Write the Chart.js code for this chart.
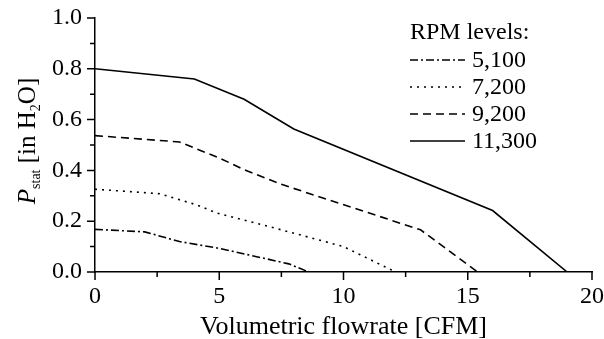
<!DOCTYPE html>
<html>
<head>
<meta charset="utf-8">
<script src="https://cdn.jsdelivr.net/npm/chart.js@4"></script>
<style>
  html, body { margin: 0; padding: 0; background: #fff; }
  #wrap { width: 604px; height: 339px; }
</style>
</head>
<body>
<div id="wrap"><canvas id="myChart" width="604" height="339"></canvas></div>
<script>
// values
var rpmLabels = ['5,100', '7,200', '9,200', '11,300'];
var flow5100 = [0, 2, 3.4, 5, 6.8, 7.8, 8.6];
var pres5100 = [0.168, 0.158, 0.12, 0.093, 0.054, 0.032, 0];
var flow7200 = [0, 2.6, 4.1, 4.9, 7.5, 10, 12.1];
var pres7200 = [0.326, 0.308, 0.264, 0.232, 0.166, 0.10, 0];
var flow9200 = [0, 3.4, 5, 6, 7.5, 13.1, 15.4];
var pres9200 = [0.537, 0.512, 0.449, 0.403, 0.345, 0.166, 0];
var flow11300 = [0, 4, 6, 8, 16, 19];
var pres11300 = [0.80, 0.76, 0.68, 0.563, 0.242, 0];
var xTicks = [0, 5, 10, 15, 20];
var yTicks = [0.0, 0.2, 0.4, 0.6, 0.8, 1.0];

var serif = "'Liberation Serif', 'DejaVu Serif', serif";
var dashes = [[8, 3, 2, 3], [2, 5], [8, 5], []];

function pts(xs, ys) {
    return xs.map(function (x, i) { return { x: x, y: ys[i] }; });
}

var series = [pts(flow5100, pres5100), pts(flow7200, pres7200), pts(flow9200, pres9200), pts(flow11300, pres11300)];

var datasets = series.map(function (d, i) {
    return {
        label: rpmLabels[i],
        data: d,
        borderColor: '#000',
        borderWidth: 1.6,
        borderDash: dashes[i],
        pointRadius: 0,
        fill: false,
        tension: 0
    };
});

// ticks (major + minor), axis titles and legend
var decor = {
    id: 'decor',
    afterDraw: function (chart) {
        var c = chart.ctx, xs = chart.scales.x, ys = chart.scales.y;
        var a = chart.chartArea;
        c.save();
        c.strokeStyle = '#000';
        c.lineWidth = 1.5;
        c.beginPath();
        for (var v = 0; v <= 20.001; v += 2.5) {
            var px = xs.getPixelForValue(v);
            var major = Math.abs(v % 5) < 0.01;
            c.moveTo(px, a.bottom);
            c.lineTo(px, a.bottom + (major ? 8 : 5));
        }
        for (var k = 0; k <= 10; k++) {
            var py = ys.getPixelForValue(k / 10);
            c.moveTo(a.left, py);
            c.lineTo(a.left - (k % 2 === 0 ? 8 : 5), py);
        }
        c.stroke();

        c.fillStyle = '#000';
        // x title
        c.font = '26px ' + serif;
        c.textAlign = 'center';
        c.textBaseline = 'alphabetic';
        c.fillText('Volumetric flowrate [CFM]', (a.left + a.right) / 2, 334);

        // y title with subscripts
        c.save();
        c.translate(35, 141);
        c.rotate(-Math.PI / 2);
        var parts = [
            ['italic 25px ' + serif, 'P', 0],
            ['14px ' + serif, 'stat', 5],
            ['25px ' + serif, ' [in H', 0],
            ['14px ' + serif, '2', 5],
            ['25px ' + serif, 'O]', 0]
        ];
        var total = 0;
        parts.forEach(function (p) { c.font = p[0]; total += c.measureText(p[1]).width; });
        var cx = -total / 2;
        c.textAlign = 'left';
        parts.forEach(function (p) {
            c.font = p[0];
            c.fillText(p[1], cx, p[2]);
            cx += c.measureText(p[1]).width;
        });
        c.restore();

        // legend
        c.font = '24px ' + serif;
        c.textAlign = 'left';
        c.textBaseline = 'middle';
        c.fillText('RPM levels:', 410, 33);
        chart.data.datasets.forEach(function (ds, i) {
            var y = 60 + i * 27;
            c.beginPath();
            c.setLineDash(ds.borderDash);
            c.lineWidth = 1.6;
            c.moveTo(410, y);
            c.lineTo(465, y);
            c.stroke();
            c.setLineDash([]);
            c.fillText(ds.label, 472, y + 1);
        });
        c.restore();
    }
};

var ctx = document.getElementById('myChart').getContext('2d');
var myChart = new Chart(ctx, {
    type: 'line',
    data: { datasets: datasets },
    options: {
        responsive: false,
        animation: false,
        layout: { padding: { top: 18, right: 12, left: 0, bottom: 0 } },
        plugins: { legend: { display: false }, tooltip: { enabled: false } },
        scales: {
            x: {
                type: 'linear',
                min: 0,
                max: 20,
                afterFit: function (s) {
                    s.height = 67;
                    s.paddingLeft = 0; s.paddingRight = 0;
                },
                afterBuildTicks: function (s) { s.ticks = xTicks.map(function (v) { return { value: v }; }); },
                grid: { display: false, drawTicks: false },
                border: { display: true, color: '#000', width: 1.5 },
                ticks: {
                    color: '#000',
                    font: { family: serif, size: 24 },
                    padding: 10,
                    maxRotation: 0,
                    callback: function (v) { return String(v); }
                }
            },
            y: {
                type: 'linear',
                min: 0,
                max: 1,
                afterFit: function (s) {
                    s.width = 95;
                    s.paddingTop = 0; s.paddingBottom = 0;
                },
                afterBuildTicks: function (s) { s.ticks = yTicks.map(function (v) { return { value: v }; }); },
                grid: { display: false, drawTicks: false },
                border: { display: true, color: '#000', width: 1.5 },
                ticks: {
                    color: '#000',
                    font: { family: serif, size: 24 },
                    padding: 13,
                    callback: function (v) { return v.toFixed(1); }
                }
            }
        }
    },
    plugins: [decor]
});
</script>
</body>
</html>
